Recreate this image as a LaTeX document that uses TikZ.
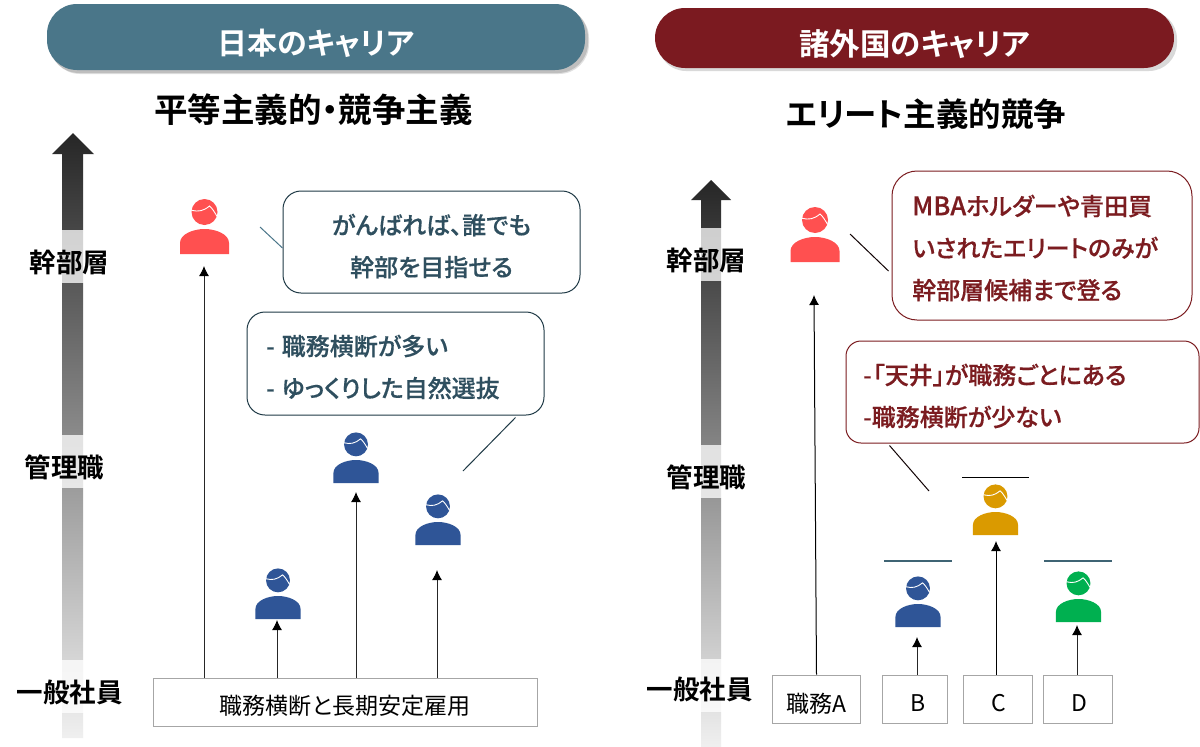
\documentclass[tikz,border=0pt]{standalone}
\usepackage{fontspec}
\setmainfont{Noto Sans CJK JP}[BoldFont={Noto Sans CJK JP Bold},RawFeature=+palt]
\newfontfamily\medfont{Noto Sans CJK JP Medium}[RawFeature=+palt,FakeBold=0.4]
\usetikzlibrary{calc,arrows.meta}
\definecolor{tealhd}{HTML}{4A7689}
\definecolor{winehd}{HTML}{7B1A20}
\definecolor{tealtx}{HTML}{2F4F5F}
\definecolor{tealln}{HTML}{1F3A46}
\definecolor{winetx}{HTML}{7B1C20}
\definecolor{pred}{HTML}{FF5050}
\definecolor{pblue}{HTML}{2F5597}
\definecolor{pgold}{HTML}{DA9A00}
\definecolor{pgreen}{HTML}{00B050}
\definecolor{boxln}{HTML}{A6A6A6}
\newcommand\low[2]{\raisebox{-#1}[\height][\depth]{#2}}
\tikzset{
  header/.style={rounded corners=30pt,minimum height=#1,text=white,font=\bfseries\fontsize{30}{32}\selectfont,inner sep=0pt},
  subhead/.style={font=\bfseries\fontsize{33.5}{36}\selectfont,text=black,inner sep=0pt},
  rank/.style={fill=white,fill opacity=.76,text opacity=1,font=\bfseries\fontsize{26.5}{30}\selectfont,text=black,minimum width=105pt,minimum height=53pt,inner sep=0pt},
  callteal/.style={draw=tealln,line width=1pt,rounded corners=18pt,fill=white,inner sep=0pt},
  tealtext/.style={text=tealtx,font=\medfont\fontsize{24}{42}\selectfont,inner sep=0pt},
  callwine/.style={draw=winetx,line width=1pt,fill=white,text=winetx,inner sep=0pt},
  winetext/.style={text=winetx,font=\medfont\fontsize{24}{42}\selectfont,align=left,inner sep=0pt,anchor=west},
  jobbox/.style={draw=boxln,line width=1pt,fill=white,text=black,font=\fontsize{23}{26}\selectfont,inner sep=0pt},
  rise/.style={line width=1pt,draw=black!85,-{Latex[length=10pt,width=10pt,black]}},
  tailteal/.style={line width=1pt,draw=tealhd},
  tailwine/.style={line width=1pt,draw=black!85!winetx},
  ceiling/.style={line width=1pt},
}
% name, centre x, bottom y, colour, scale
\newcommand\person[5]{%
  \node[inner sep=0pt,minimum width=#5*49pt,minimum height=#5*55pt,anchor=south] (#1) at (#2,#3) {};
  \begin{scope}[shift={(#2,#3)},scale=#5]
    \fill[#4] (-24.5,0) -- (-24.5,-11) .. controls (-24.5,-20) and (-11,-25) .. (0,-25)
      .. controls (11,-25) and (24.5,-20) .. (24.5,-11) -- (24.5,0) -- cycle;
    \fill[#4] (0,-42) circle (13);
    \draw[white,line width=.9pt] (-13,-43.7) .. controls (-6,-42) and (-1,-43) .. (5,-48) .. controls (7.5,-46) and (10,-42) .. (12.5,-37.7);
  \end{scope}}
\begin{document}
\begin{tikzpicture}[x=1pt,y=-1pt]
\useasboundingbox (0,0) rectangle (1200,747);
\fill[white] (0,0) rectangle (1200,747);

% scale arrows
\shade[top color=black!85,bottom color=black!6] (73,133) -- (94,154) -- (83,154) -- (83,738) -- (62,738) -- (62,154) -- (52,154) -- cycle;
\shade[top color=black!85,bottom color=black!6] (711,180) -- (731,200) -- (721,200) -- (721,747) -- (701,747) -- (701,200) -- (691,200) -- cycle;

% headers
\fill[black,opacity=.12,rounded corners=30pt] (50,8) rectangle (589,74);
\fill[black,opacity=.15,rounded corners=30pt] (49,7) rectangle (588,73);
\fill[black,opacity=.15,rounded corners=28pt] (658,11) rectangle (1177,71);
\node[header=66pt,fill=tealhd,minimum width=538pt] (hl) at (316,37) {\low{6pt}{日本のキャリア}};
\node[header=60pt,fill=winehd,minimum width=519pt] (hr) at (914.5,38) {\fontsize{30.5}{32}\selectfont\low{6pt}{諸外国のキャリア}};
\node[subhead] (sl) at (313.5,110) {平等主義的・競争主義};
\node[subhead,font=\bfseries\fontsize{32.5}{36}\selectfont] (sr) at (926,114) {エリート主義的競争};

% rank labels
\node[rank] (l1) at (69.5,256.5) {\low{5.5pt}{幹部層}};
\node[rank] (l2) at (64.5,461) {\low{6pt}{管理職}};
\node[rank] (l3) at (69.5,686.5) {\low{5.5pt}{一般社員}};
\node[rank] (r1) at (706.5,254.5) {\low{5.5pt}{幹部層}};
\node[rank] (r2) at (706.5,471) {\low{6pt}{管理職}};
\node[rank] (r3) at (699.5,685) {\low{4.5pt}{一般社員}};

% left side
\node[jobbox,minimum width=384pt,minimum height=48pt] (lb) at (345,702) {\low{4pt}{職務横断と長期安定雇用}};
\person{pl1}{204.5}{254}{pred}{1}
\person{pl2}{278}{619}{pblue}{.92}
\person{pl3}{356}{483}{pblue}{.92}
\person{pl4}{438}{545}{pblue}{.92}
\coordinate (pa1) at (204,266);
\coordinate (pa2) at (277,620);
\coordinate (pa3) at (356,492);
\coordinate (pa4) at (437,570);
\draw[rise] (lb.north -| pa1) -- (pa1);
\draw[rise] (lb.north -| pa2) -- (pa2);
\draw[rise] (lb.north -| pa3) -- (pa3);
\draw[rise] (lb.north -| pa4) -- (pa4);

\node[callteal,minimum width=297pt,minimum height=102pt] (cl1) at (431.5,242) {};
\node[tealtext,align=center] (cl1t) at (431.5,246) {がんばれば、誰でも\\幹部を目指せる};
\node[callteal,minimum width=297pt,minimum height=103pt] (cl2) at (395.5,363.5) {};
\node[tealtext,align=left,anchor=west] (cl2t) at (266,367) {-\hspace{7pt}職務横断が多い\\-\hspace{7pt}ゆっくりした自然選抜};
\coordinate (tl1) at (260,227);
\coordinate (tl2) at (463,471);
\draw[tailteal] (tl1) -- ($(cl1.west)+(0,6)$);
\draw[tailteal,draw=tealln] (tl2) -- ($(cl2.south east)+(-29,2)$);

% right side
\node[jobbox,minimum width=88pt,minimum height=48pt] (ra) at (816,699) {\low{5pt}{職務A}};
\node[jobbox,minimum width=65pt,minimum height=48pt] (rb) at (914.5,699) {\low{4pt}{\hspace*{7pt}B}};
\node[jobbox,minimum width=69pt,minimum height=48pt] (rc) at (997.5,699) {\low{4pt}{\hspace*{3pt}C}};
\node[jobbox,minimum width=69pt,minimum height=48pt] (rd) at (1077.5,699) {\low{4pt}{\hspace*{3pt}D}};
\person{pr1}{815}{262}{pred}{1}
\person{pr2}{918}{627}{pblue}{.92}
\person{pr3}{995.5}{535}{pgold}{.92}
\person{pr4}{1078.5}{622}{pgreen}{.92}
\coordinate (ca0) at (816.5,0);
\coordinate (ca) at (814,295);
\coordinate (cb) at (917,637);
\coordinate (cc) at (996,541);
\coordinate (cd) at (1077,625);
\draw[rise,draw=black] (ra.north -| ca0) -- (ca);
\draw[rise] (rb.north -| cb) -- (cb);
\draw[rise,draw=black] (rc.north -| cc) -- (cc);
\draw[rise] (rd.north -| cd) -- (cd);

\coordinate (b1) at (884,561); \coordinate (b2) at (952,561);
\coordinate (g1) at (962,477); \coordinate (g2) at (1029,477);
\coordinate (d1) at (1044,561); \coordinate (d2) at (1112,561);
\draw[ceiling,line width=1.3pt,draw=tealhd!85!black] (b1) -- (b2);
\draw[ceiling,draw=black] (g1) -- (g2);
\draw[ceiling,line width=1.3pt,draw=tealhd!85!black] (d1) -- (d2);

\node[callwine,rounded corners=25pt,minimum width=300pt,minimum height=149pt] (cr1) at (1042,245.5) {};
\node[winetext] (cr1t) at (912,248) {{\fontsize{25.5}{42}\selectfont MBA}ホルダーや青田買\\いされたエリートのみが\\幹部層候補まで登る};
\node[callwine,rounded corners=15pt,minimum width=353pt,minimum height=102pt] (cr2) at (1022.5,392) {};
\node[winetext] (cr2t) at (863,396) {-\hspace{1pt}「天井」が職務ごとにある\\-職務横断が少ない};
\coordinate (tr1) at (850,234);
\coordinate (tr2) at (929,491);
\draw[tailwine] (tr1) -- ($(cr1.west)+(-3,25.5)$);
\draw[tailwine] (tr2) -- ($(cr2.south west)+(44,2)$);
\end{tikzpicture}
\end{document}
